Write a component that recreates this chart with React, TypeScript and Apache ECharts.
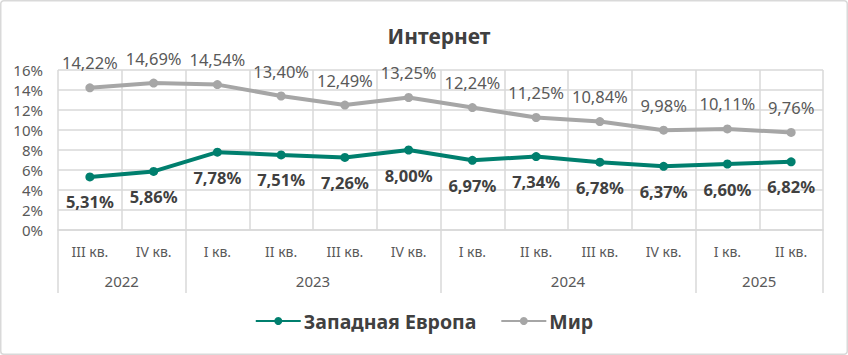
import React, { useEffect, useRef } from "react";
import * as echarts from "echarts";

const quarters = ["III кв.", "IV кв.", "I кв.", "II кв.", "III кв.", "IV кв.", "I кв.", "II кв.", "III кв.", "IV кв.", "I кв.", "II кв."];
const years = ["2022", "2023", "2024", "2025"];
const yearCenters = [1, 4, 8, 11];
const yearBounds = [0, 2, 6, 10, 12];
const westernEurope = [5.31, 5.86, 7.78, 7.51, 7.26, 8.0, 6.97, 7.34, 6.78, 6.37, 6.6, 6.82];
const world = [14.22, 14.69, 14.54, 13.4, 12.49, 13.25, 12.24, 11.25, 10.84, 9.98, 10.11, 9.76];

const FONT = "Noto Sans";
const fmt = (v: number) => v.toFixed(2).replace(".", ",") + "%";

export default function App() {
  const ref = useRef<HTMLDivElement>(null);
  useEffect(() => {
    const chart = echarts.init(ref.current!, null, { renderer: "svg" });
    chart.setOption({
      animation: false,
      textStyle: { fontFamily: FONT },
      title: {
        text: "Интернет",
        left: 434,
        top: 20,
        textAlign: "center",
        textStyle: { fontFamily: FONT, fontSize: 21, fontWeight: "bold", color: "#404040" },
      },
      legend: {
        bottom: 19,
        left: "center",
        itemWidth: 45,
        itemHeight: 10,
        itemGap: 24,
        textStyle: { fontFamily: FONT, fontSize: 19.5, fontWeight: "bold", color: "#404040", padding: [0, 0, 0, -2] },
        data: ["Западная Европа", "Мир"],
      },
      grid: { left: 58, right: 25, top: 70, bottom: 125, containLabel: false },
      xAxis: [
        {
          type: "category",
          data: quarters,
          boundaryGap: true,
          axisLine: { show: true, lineStyle: { color: "#d9d9d9", width: 1.5 } },
          axisTick: { show: false },
          splitLine: { show: true, lineStyle: { color: "#d9d9d9", width: 1.5 } },
          axisLabel: { fontFamily: FONT, fontSize: 14, color: "#595959", margin: 14 },
        },
        {
          type: "value",
          min: 0,
          max: 12,
          position: "bottom",
          axisLine: { show: false },
          splitLine: { show: false },
          axisTick: {
            show: true,
            customValues: yearBounds,
            length: 63,
            lineStyle: { color: "#d9d9d9", width: 1.5 },
          },
          axisLabel: {
            show: true,
            customValues: yearCenters,
            formatter: (v: number) => years[yearCenters.indexOf(v)] ?? "",
            fontFamily: FONT,
            fontSize: 15,
            color: "#595959",
            margin: 43,
          },
        },
      ],
      yAxis: {
        type: "value",
        min: 0,
        max: 16,
        interval: 2,
        axisLine: { show: false },
        axisTick: { show: false },
        splitLine: { show: true, lineStyle: { color: "#d9d9d9", width: 1.5 } },
        axisLabel: {
          formatter: (v: number) => v + "%",
          fontFamily: FONT,
          fontSize: 15,
          color: "#595959",
          margin: 15,
        },
      },
      series: [
        {
          name: "Западная Европа",
          type: "line",
          data: westernEurope,
          xAxisIndex: 0,
          color: "#007F6E",
          symbol: "circle",
          symbolSize: 9,
          lineStyle: { width: 4, color: "#007F6E" },
          itemStyle: { color: "#007F6E" },
          label: {
            show: true,
            position: "bottom",
            distance: 12,
            formatter: (p: any) => fmt(p.value),
            fontFamily: FONT,
            fontSize: 16.5,
            fontWeight: "bold",
            color: "#404040",
          },
        },
        {
          name: "Мир",
          type: "line",
          data: world,
          xAxisIndex: 0,
          color: "#A6A6A6",
          symbol: "circle",
          symbolSize: 9,
          lineStyle: { width: 4, color: "#A6A6A6" },
          itemStyle: { color: "#A6A6A6" },
          label: {
            show: true,
            position: "top",
            distance: 12,
            formatter: (p: any) => fmt(p.value),
            fontFamily: FONT,
            fontSize: 16.5,
            color: "#595959",
          },
        },
      ],
      graphic: [
        {
          type: "rect",
          shape: { x: 0.75, y: 0.75, width: 846.5, height: 353.5, r: 3 },
          style: { fill: "none", stroke: "#d9d9d9", lineWidth: 1.5 },
          silent: true,
        },
      ],
    });
    return () => chart.dispose();
  }, []);
  return (
    <div
      ref={ref}
      style={{ position: "fixed", left: 0, top: 0, width: 848, height: 355, background: "#fff" }}
    />
  );
}
